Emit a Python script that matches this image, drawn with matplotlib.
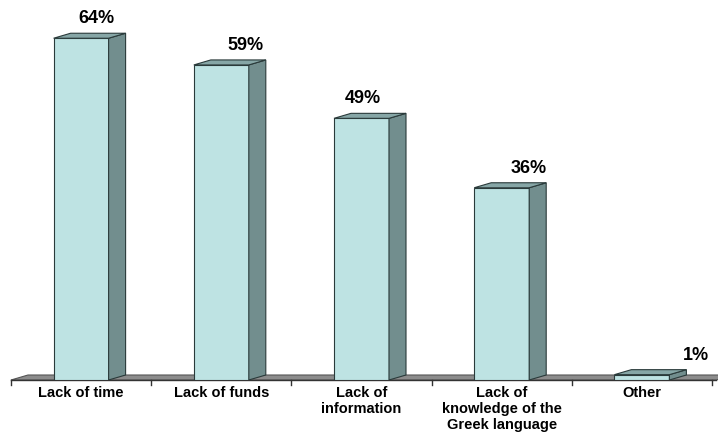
import matplotlib
matplotlib.use("Agg")
import matplotlib.pyplot as plt
from matplotlib.patches import Polygon

plt.rcParams['font.family'] = ['Liberation Sans', 'DejaVu Sans']

categories = ["Lack of time", "Lack of funds", "Lack of\ninformation",
              "Lack of\nknowledge of the\nGreek language", "Other"]
values = [64, 59, 49, 36, 1]
value_labels = ["64%", "59%", "49%", "36%", "1%"]

# layout: horizontal shift of each value label (pixels, from bar centre)
label_shift_px = [15, 24, 1, 27, 54]

W, H = 718, 432
fig = plt.figure(figsize=(W / 100, H / 100), dpi=100)
left_px, right_px, base_px = 11, 712, 380
ppu = 5.34  # pixels per percent
ymax = base_px / ppu
ax = fig.add_axes([left_px / W, (H - base_px) / H, (right_px - left_px) / W, base_px / H])
n = len(categories)
ax.set_xlim(-0.5, n - 0.5)
ax.set_ylim(0, ymax)
ax.axis('off')

cat_px = (right_px - left_px) / n
dx = 17 / cat_px
dy = 5 / ppu
bw = 55 / cat_px

front_c = "#BEE3E3"
side_c = "#728E8E"
top_c = "#86A6A6"
edge_c = "#2a3a3a"

# floor
floor = Polygon([(-0.5, 0), (n - 0.5 + 0.03, 0), (n - 0.5 + 0.03 + dx, dy), (-0.5 + dx, dy)],
                closed=True, facecolor="#8C8C8C", edgecolor="#555555", lw=0.8,
                clip_on=False, zorder=1)
ax.add_patch(floor)
ax.plot([-0.5, n - 0.5 + 0.03], [0, 0], color="#333333", lw=1.0, clip_on=False, zorder=2)
for i in range(n + 1):
    ax.plot([i - 0.5, i - 0.5], [0, -5 / ppu], color="#333333", lw=1.0, clip_on=False, zorder=2)

for i, v in enumerate(values):
    x0, x1 = i - bw / 2, i + bw / 2
    front = Polygon([(x0, 0), (x1, 0), (x1, v), (x0, v)], closed=True,
                    facecolor=front_c, edgecolor=edge_c, lw=0.8, zorder=3)
    side = Polygon([(x1, 0), (x1 + dx, dy), (x1 + dx, v + dy), (x1, v)], closed=True,
                   facecolor=side_c, edgecolor=edge_c, lw=0.8, zorder=3)
    top = Polygon([(x0, v), (x1, v), (x1 + dx, v + dy), (x0 + dx, v + dy)], closed=True,
                  facecolor=top_c, edgecolor=edge_c, lw=0.8, zorder=3)
    for p in (front, side, top):
        ax.add_patch(p)
    ax.text(i + label_shift_px[i] / cat_px, v + dy + 10 / ppu, value_labels[i],
            ha='center', va='baseline', fontsize=13, fontweight='bold',
            color='black', zorder=4)
    ax.text(i, -6 / ppu, categories[i], ha='center', va='top', fontsize=10.5,
            fontweight='bold', color='black', linespacing=1.18, clip_on=False)

fig.savefig("out.png", dpi=100)
